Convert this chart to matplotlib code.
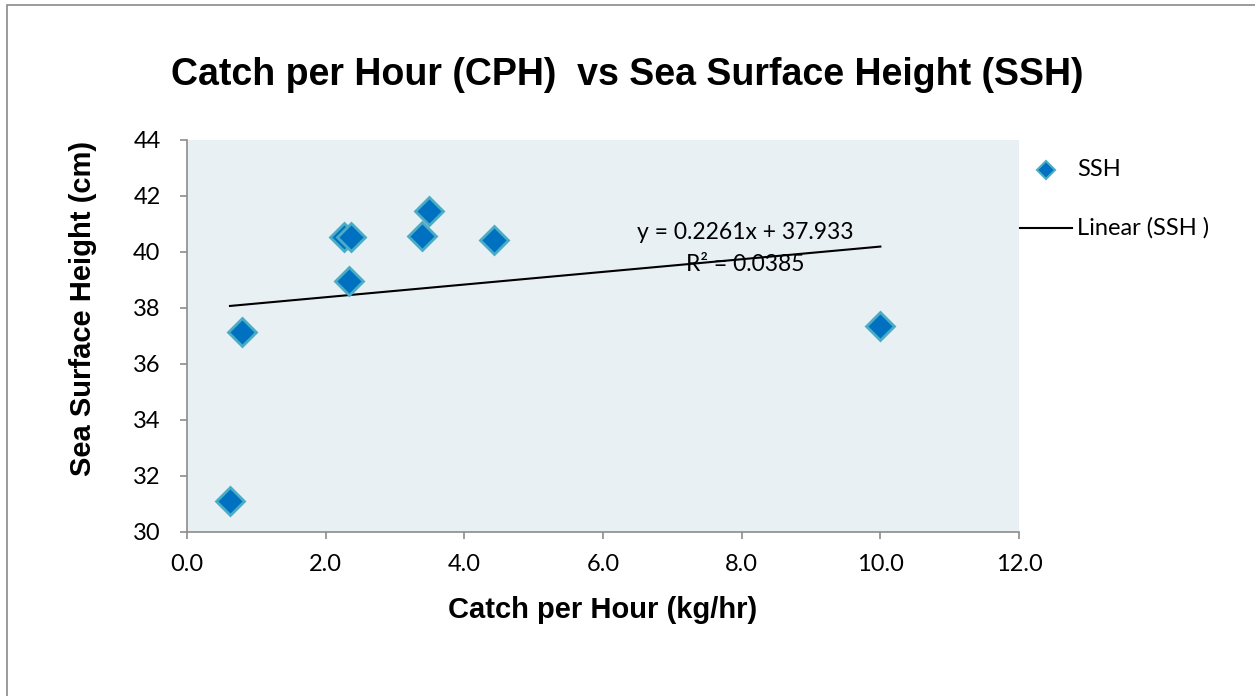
import numpy as np
import matplotlib.pyplot as plt
from matplotlib.lines import Line2D
from matplotlib.patches import Rectangle

# data
cph = [0.62, 0.79, 2.26, 2.37, 2.34, 3.39, 3.49, 4.43, 10.0]
ssh = [31.1, 37.15, 40.55, 40.55, 38.97, 40.57, 41.47, 40.43, 37.37]
slope = 0.2261
intercept = 37.933
r2 = 0.0385
x_ticks = [0, 2, 4, 6, 8, 10, 12]
y_ticks = [30, 32, 34, 36, 38, 40, 42, 44]

tick_font = 'Lato'
W, H = 1255, 696

fig = plt.figure(figsize=(W / 100, H / 100), dpi=100)
fig.patches.append(Rectangle((7 / W, -0.01), 1.2, 1 - 5 / H + 0.01, transform=fig.transFigure,
                             fill=False, edgecolor='#8a8a8a', linewidth=1.2))

ax = fig.add_axes([187 / W, 1 - 532 / H, (1019 - 187) / W, (532 - 140) / H])
ax.set_facecolor('#E9F0F4')

ax.plot(cph, ssh, linestyle='none', marker='D', markersize=14,
        markerfacecolor='#0070C0', markeredgecolor='#4BACC6', markeredgewidth=2, zorder=3)

# linear trendline
xs = np.array([min(cph), max(cph)])
ax.plot(xs, slope * xs + intercept, color='black', linewidth=1.5, zorder=2)

ax.set_xlim(0, 12)
ax.set_ylim(30, 44)
ax.set_xticks(x_ticks)
ax.set_yticks(y_ticks)
ax.set_xticklabels([f'{v:.1f}' for v in x_ticks], fontfamily=tick_font, fontsize=17)
ax.set_yticklabels([str(v) for v in y_ticks], fontfamily=tick_font, fontsize=17)
ax.tick_params(direction='out', length=5, color='#8c8c8c', width=1.2)
ax.tick_params(axis='x', pad=11)
ax.tick_params(axis='y', pad=14)

for s in ['top', 'right']:
    ax.spines[s].set_visible(False)
for s in ['left', 'bottom']:
    ax.spines[s].set_color('#8c8c8c')
    ax.spines[s].set_linewidth(1.2)

ax.set_xlabel('Catch per Hour (kg/hr)', fontfamily='Liberation Sans', fontweight='bold',
              fontsize=21)
ax.set_ylabel('Sea Surface Height (cm)', fontfamily='Liberation Sans', fontweight='bold',
              fontsize=21)
ax.xaxis.set_label_coords(0.5, -0.162)
ax.yaxis.set_label_coords(-0.108, 0.571)

fig.text(627 / W, 1 - 75 / H, 'Catch per Hour (CPH)  vs Sea Surface Height (SSH)',
         fontfamily='Liberation Sans', fontweight='bold', fontsize=27,
         ha='center', va='center')

ax.text(8.05, 40.68, f'y = {slope}x + {intercept}', fontfamily=tick_font, fontsize=16.5,
        ha='center', va='center')
ax.text(8.05, 39.55, f'R² = {r2}', fontfamily=tick_font, fontsize=16.5,
        ha='center', va='center')

# legend drawn by hand
fig.lines.append(Line2D([1046 / W], [1 - 170 / H], transform=fig.transFigure, marker='D',
                        markersize=9, markerfacecolor='#0070C0', markeredgecolor='#4BACC6',
                        markeredgewidth=1.5, linestyle='none'))
fig.text(1077 / W, 1 - 170 / H, 'SSH', fontfamily=tick_font, fontsize=17, va='center')
fig.lines.append(Line2D([1020 / W, 1072 / W], [1 - 228 / H, 1 - 228 / H],
                        transform=fig.transFigure, color='black', linewidth=1.5))
fig.text(1077 / W, 1 - 228 / H, 'Linear (SSH )', fontfamily=tick_font, fontsize=17, va='center')

fig.savefig('out.png', dpi=100)
